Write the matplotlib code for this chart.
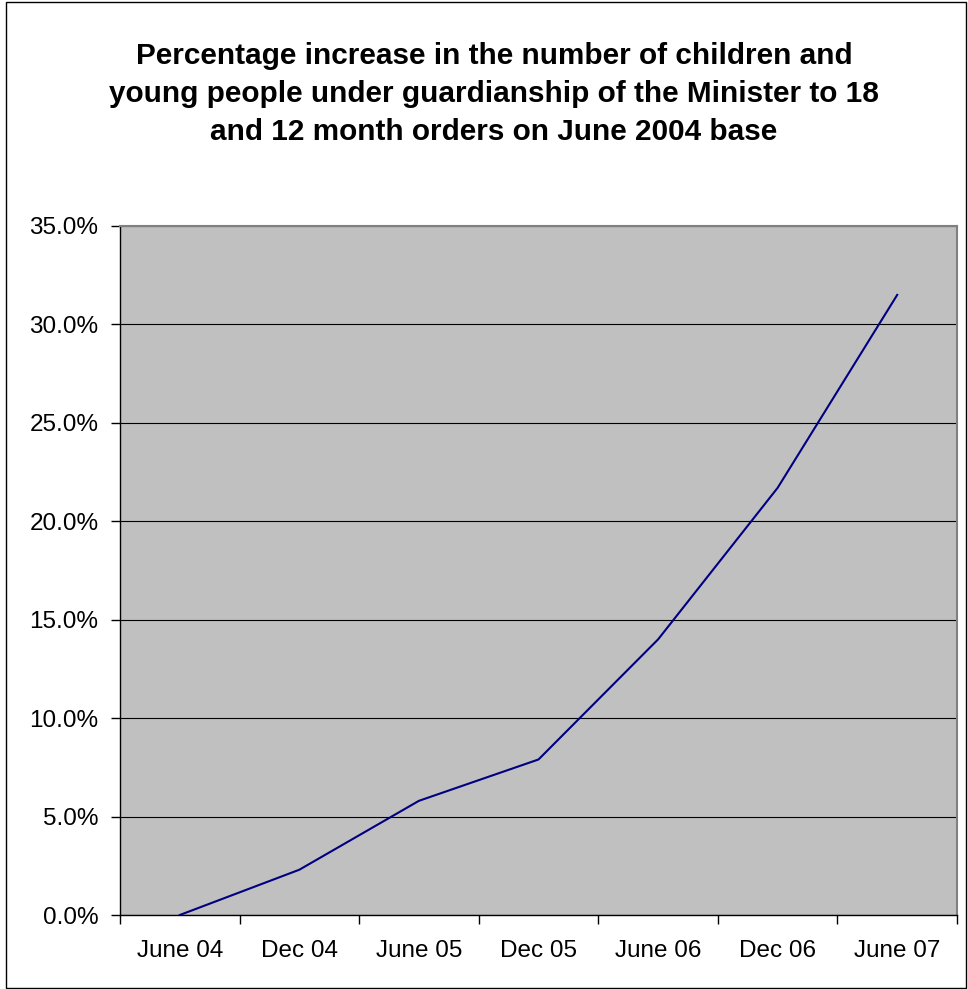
import matplotlib.pyplot as plt
from matplotlib.patches import Rectangle
from matplotlib.ticker import FuncFormatter, FixedLocator, NullFormatter

plt.rcParams['font.family'] = ['Liberation Sans', 'DejaVu Sans']

# Data
periods = ['June 04', 'Dec 04', 'June 05', 'Dec 05', 'June 06', 'Dec 06', 'June 07']
pct_increase = [0.0, 2.3, 5.8, 7.9, 14.0, 21.7, 31.5]

title = ('Percentage increase in the number of children and\n'
         'young people under guardianship of the Minister to 18\n'
         'and 12 month orders on June 2004 base')

fig = plt.figure(figsize=(9.68, 9.89), dpi=100)

# outer chart border
fig.patches.append(Rectangle((6 / 968, 1 / 989), 960 / 968, 986 / 989, transform=fig.transFigure,
                             fill=False, edgecolor='black', linewidth=1))

ax = fig.add_axes([120 / 968, 1 - 915 / 989, 837 / 968, 689 / 989])
ax.set_facecolor('#c0c0c0')

x = list(range(len(periods)))
ax.plot(x, pct_increase, color='#000080', linewidth=1.5, zorder=3)

ax.set_xlim(-0.5, len(periods) - 0.5)
ax.set_ylim(0, 35)
ax.set_yticks([0, 5, 10, 15, 20, 25, 30, 35])
ax.yaxis.set_major_formatter(FuncFormatter(lambda v, p: f'{v:.1f}%'))
ax.yaxis.grid(True, color='black', linewidth=0.8)
ax.set_axisbelow(True)

# categories labelled at centres, ticks at boundaries
ax.set_xticks(x)
ax.set_xticklabels(periods)
ax.tick_params(axis='x', which='major', length=0, pad=18, labelsize=17.5)
ax.xaxis.set_minor_locator(FixedLocator([i - 0.5 for i in range(len(periods) + 1)]))
ax.xaxis.set_minor_formatter(NullFormatter())
ax.tick_params(axis='x', which='minor', length=6.5, width=1, color='black')
ax.tick_params(axis='y', length=6.5, width=1, labelsize=17.5, pad=9)

for side in ['top', 'right']:
    ax.spines[side].set_color('#808080')
    ax.spines[side].set_linewidth(1.5)
for side in ['left', 'bottom']:
    ax.spines[side].set_color('black')
    ax.spines[side].set_linewidth(1)

fig.text(494 / 968, 1 - 94 / 989, title, ha='center', va='center',
         fontsize=21.4, fontweight='bold', linespacing=1.45)

plt.savefig('out.png', dpi=100)
